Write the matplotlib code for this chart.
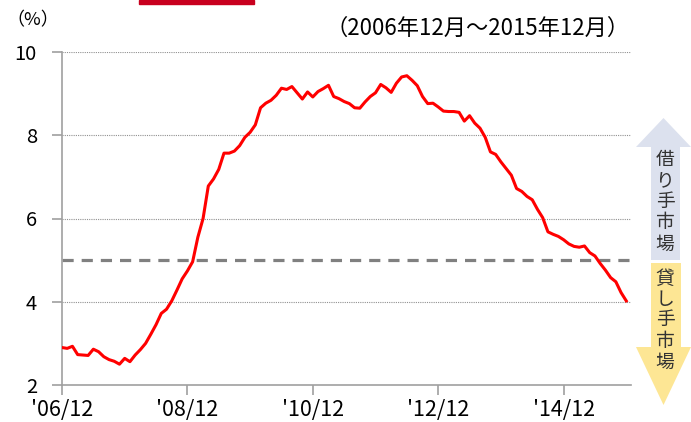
import numpy as np
import matplotlib
matplotlib.use('Agg')
import matplotlib.pyplot as plt
from matplotlib.patches import Polygon, Rectangle

plt.rcParams['font.family'] = ['Noto Sans CJK JP', 'DejaVu Sans']

# 空室率 (%), 2006/12 - 2015/12 月次
vacancy = [
    2.90, 2.88, 2.93, 2.73, 2.72, 2.71, 2.86, 2.80, 2.68, 2.61,
    2.57, 2.50, 2.64, 2.56, 2.72, 2.85, 3.00, 3.22, 3.45, 3.72,
    3.82, 4.02, 4.28, 4.55, 4.74, 4.96, 5.55, 6.00, 6.78, 6.95,
    7.18, 7.57, 7.57, 7.62, 7.75, 7.95, 8.07, 8.25, 8.66, 8.77,
    8.84, 8.96, 9.13, 9.10, 9.17, 9.02, 8.87, 9.04, 8.92, 9.05,
    9.12, 9.20, 8.93, 8.88, 8.81, 8.76, 8.66, 8.65, 8.80, 8.93,
    9.02, 9.22, 9.14, 9.03, 9.25, 9.40, 9.43, 9.32, 9.19, 8.93,
    8.76, 8.77, 8.68, 8.58, 8.57, 8.57, 8.55, 8.34, 8.47, 8.29,
    8.17, 7.95, 7.60, 7.54, 7.36, 7.20, 7.04, 6.72, 6.65, 6.53,
    6.45, 6.22, 6.02, 5.68, 5.62, 5.57, 5.49, 5.39, 5.33, 5.31,
    5.34, 5.18, 5.10, 4.92, 4.76, 4.58, 4.48, 4.22, 4.02,
]
months = np.arange(len(vacancy))
tick_pos = [0, 24, 48, 72, 96]
tick_labels = ["'06/12", "'08/12", "'10/12", "'12/12", "'14/12"]
threshold = 5

W, H = 691, 422
fig = plt.figure(figsize=(W / 100, H / 100), dpi=100)
ax = fig.add_axes([62 / W, 1 - 385 / H, (631 - 62) / W, (385 - 52) / H])

ax.plot(months, vacancy, color='#ff0000', lw=2.2, zorder=3)
ax.axhline(threshold, color='#808080', lw=2.3, linestyle=(0, (3.5, 2.5)), zorder=2)
for v in [4, 6, 8, 10]:
    ax.axhline(v, color='#909090', lw=0.8, linestyle=(0, (1, 1)), zorder=1)

ax.set_xlim(0, 108.9)
ax.set_ylim(2, 10)
ax.set_yticks([2, 4, 6, 8, 10])
ax.set_yticklabels(['2', '4', '6', '8', '10'], fontsize=14.5)
ax.set_xticks(tick_pos)
ax.set_xticklabels(tick_labels, fontsize=15.5)
for s in ['top', 'right']:
    ax.spines[s].set_visible(False)
for s in ['left', 'bottom']:
    ax.spines[s].set_color('#a0a0a0')
    ax.spines[s].set_linewidth(1.2)
ax.tick_params(axis='both', direction='out', length=7, width=1.2, color='#a0a0a0',
               labelcolor='black')
ax.tick_params(axis='y', pad=11)
ax.tick_params(axis='x', pad=3)

# 上部テキスト
fig.text(6 / W, 1 - 20 / H, '（%）', fontsize=13, ha='left', va='center')
fig.text(630 / W, 1 - 28 / H, '（2006年12月～2015年12月）', fontsize=16,
         ha='right', va='center')
fig.patches.append(Rectangle((139 / W, 1 - 4 / H), 115 / W, 4 / H,
                             transform=fig.transFigure, color='#c8001e'))

# 右側の矢印
def px(pts):
    return [(x / W, 1 - y / H) for x, y in pts]

up = px([(651, 260), (651, 147), (636, 147), (663.5, 118), (691, 147),
         (680, 147), (680, 260)])
down = px([(651, 263), (651, 347), (636, 347), (663.5, 405), (691, 347),
           (681, 347), (681, 263)])
fig.patches.append(Polygon(up, closed=True, transform=fig.transFigure,
                           facecolor='#dce1ee', edgecolor='none'))
fig.patches.append(Polygon(down, closed=True, transform=fig.transFigure,
                           facecolor='#fde694', edgecolor='none'))
fig.text(665 / W, 1 - 202 / H, '\n'.join('借り手市場'), fontsize=13.5,
         ha='center', va='center', color='#333333', linespacing=1.0)
fig.text(665 / W, 1 - 320 / H, '\n'.join('貸し手市場'), fontsize=13.5,
         ha='center', va='center', color='#333333', linespacing=1.0)

fig.savefig('out.png', dpi=100)
